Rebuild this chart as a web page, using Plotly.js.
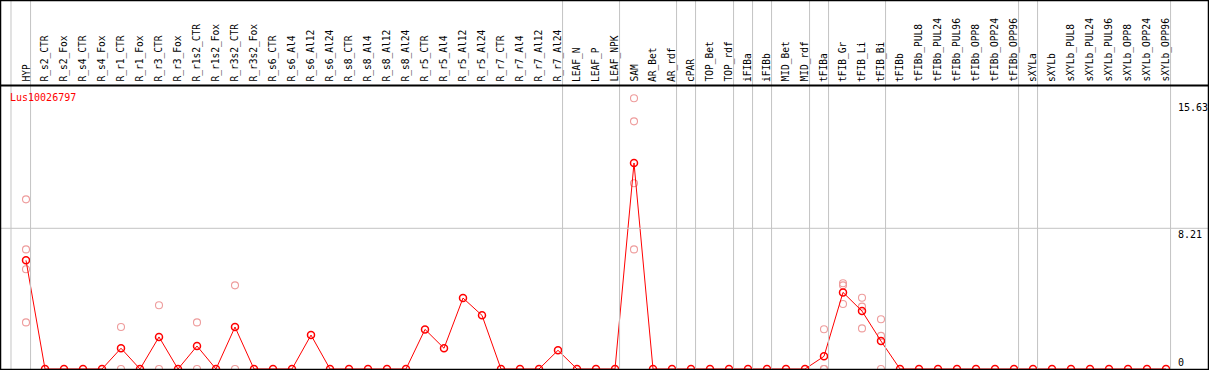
<!DOCTYPE html>
<html>
<head>
<meta charset="utf-8">
<script src="https://cdn.plot.ly/plotly-3.0.1.min.js"></script>
<style>html,body{margin:0;padding:0;background:#fff;}#chart{width:1209px;height:370px;}</style>
</head>
<body>
<div id="chart"></div>
<script>
var geneName = "Lus10026797";
var categories = ["HYP","R_s2_CTR","R_s2_Fox","R_s4_CTR","R_s4_Fox","R_r1_CTR","R_r1_Fox","R_r3_CTR","R_r3_Fox","R_r1s2_CTR",
  "R_r1s2_Fox","R_r3s2_CTR","R_r3s2_Fox","R_s6_CTR","R_s6_Al4","R_s6_Al12","R_s6_Al24","R_s8_CTR","R_s8_Al4","R_s8_Al12",
  "R_s8_Al24","R_r5_CTR","R_r5_Al4","R_r5_Al12","R_r5_Al24","R_r7_CTR","R_r7_Al4","R_r7_Al12","R_r7_Al24","LEAF_N",
  "LEAF_P","LEAF_NPK","SAM","AR_Bet","AR_rdf","cPAR","TOP_Bet","TOP_rdf","iFIBa","iFIBb",
  "MID_Bet","MID_rdf","tFIBa","tFIB_Gr","tFIB_Li","tFIB_Bi","tFIBb","tFIBb_PUL8","tFIBb_PUL24","tFIBb_PUL96",
  "tFIBb_OPP8","tFIBb_OPP24","tFIBb_OPP96","sXYLa","sXYLb","sXYLb_PUL8","sXYLb_PUL24","sXYLb_PUL96","sXYLb_OPP8","sXYLb_OPP24",
  "sXYLb_OPP96"];
var meanExpr = [6.34,0,0,0,0,1.21,0,1.87,0,1.34,
  0,2.45,0,0,0,1.98,0,0,0,0,
  0,2.31,1.21,4.14,3.13,0,0,0,1.09,0,
  0,0,12.02,0,0,0,0,0,0,0,
  0,0,0.74,4.47,3.38,1.63,0,0,0,0,
  0,0,0,0,0,0,0,0,0,0,
  0];
var rep1 = [9.90,null,null,null,null,2.45,null,3.72,null,2.72,
  null,4.88,null,null,null,null,null,null,null,null,
  null,null,null,null,null,null,null,null,null,null,
  null,null,15.80,null,null,null,null,null,null,null,
  null,null,2.32,5.00,4.16,2.90,null,null,null,null,
  null,null,null,null,null,null,null,null,null,null,
  null];
var rep2 = [6.98,null,null,null,null,0,null,0,null,0,
  null,0,null,null,null,null,null,null,null,null,
  null,null,null,null,null,null,null,null,null,null,
  null,null,14.45,null,null,null,null,null,null,null,
  null,null,0,4.88,3.64,1.93,null,null,null,null,
  null,null,null,null,null,null,null,null,null,null,
  null];
var rep3 = [5.82,null,null,null,null,null,null,null,null,null,
  null,null,null,null,null,null,null,null,null,null,
  null,null,null,null,null,null,null,null,null,null,
  null,null,10.84,null,null,null,null,null,null,null,
  null,null,0,3.79,2.37,0,null,null,null,null,
  null,null,null,null,null,null,null,null,null,null,
  null];
var rep4 = [2.72,null,null,null,null,null,null,null,null,null,
  null,null,null,null,null,null,null,null,null,null,
  null,null,null,null,null,null,null,null,null,null,
  null,null,6.98,null,null,null,null,null,null,null,
  null,null,null,null,null,null,null,null,null,null,
  null,null,null,null,null,null,null,null,null,null,
  null];
var groupEnds = ["HYP","R_r7_Al24","LEAF_NPK","AR_rdf","cPAR","TOP_rdf","iFIBa","iFIBb","MID_rdf","tFIBa","tFIB_Bi","tFIBb_OPP96","sXYLa","sXYLb_OPP96"];
var yTickVals = [15.63, 8.21, 0];
var yTickText = ["15.63", "8.21", "0"];
var gridVals = [8.21];

var W = 1209, H = 370;
var FONT = "DejaVu Sans Mono, monospace";
var idx = categories.map(function(_, i){ return i; });
function fx(px){ return px / W; }
function fy(py){ return 1 - py / H; }

var repColor = "#ee9c9c";
var traces = [];
[rep1, rep2, rep3, rep4].forEach(function(r){
  traces.push({x: idx, y: r, type: "scatter", mode: "markers", hoverinfo: "skip",
    marker: {symbol: "circle-open", size: 7, color: repColor, line: {width: 1.1, color: repColor}}, cliponaxis: true});
});
traces.push({x: idx, y: meanExpr, type: "scatter", mode: "lines+markers",
  line: {color: "#ff0000", width: 1},
  marker: {symbol: "circle-open", size: 7, color: "#ff0000", line: {width: 1.5, color: "#ff0000"}}, cliponaxis: true});

var shapes = [];
shapes.push({type: "line", xref: "x", yref: "paper", x0: -0.79, x1: -0.79, y0: 0, y1: 1, line: {color: "#c4c4c4", width: 1}});
groupEnds.forEach(function(name){
  var i = categories.indexOf(name) + 0.24;
  shapes.push({type: "line", xref: "x", yref: "paper", x0: i, x1: i, y0: 0, y1: 1, line: {color: "#c4c4c4", width: 1}});
});
gridVals.forEach(function(v){
  shapes.push({type: "line", xref: "paper", yref: "y", x0: 0, x1: 1, y0: v, y1: v, line: {color: "#c4c4c4", width: 1}});
});
shapes.push({type: "line", xref: "paper", yref: "paper", x0: 0, x1: 1, y0: fy(85.5), y1: fy(85.5), line: {color: "#000", width: 2}});
shapes.push({type: "rect", xref: "paper", yref: "paper", x0: fx(0.5), x1: fx(1208.5), y0: fy(369.5), y1: fy(0.5), line: {color: "#000", width: 1.5}});

var annotations = [];
categories.forEach(function(c, i){
  annotations.push({x: i - 0.02, xref: "x", y: fy(83), yref: "paper", text: c, showarrow: false, textangle: -90,
    xanchor: "center", yanchor: "bottom", borderpad: 0, font: {family: FONT, size: 9.6, color: "#000"}});
});
yTickVals.forEach(function(v, k){
  annotations.push({x: fx(1177), xref: "paper", y: v, yref: "y", text: yTickText[k], showarrow: false,
    xanchor: "left", yanchor: v === 0 ? "bottom" : "top", borderpad: 0, font: {family: FONT, size: 10, color: "#000"}});
});
annotations.push({x: fx(9), xref: "paper", y: fy(91), yref: "paper", text: geneName, showarrow: false,
  xanchor: "left", yanchor: "top", borderpad: 0, font: {family: FONT, size: 10, color: "#ff0000"}});

var layout = {
  width: W, height: H, margin: {l: 0, r: 0, t: 0, b: 0},
  paper_bgcolor: "#fff", plot_bgcolor: "#fff", showlegend: false,
  xaxis: {range: [-26/19, 1183/19], visible: false, fixedrange: true},
  yaxis: {range: [-1/17.138, 369/17.138], visible: false, fixedrange: true},
  shapes: shapes, annotations: annotations
};
Plotly.newPlot("chart", traces, layout, {staticPlot: true, displayModeBar: false});
</script>
</body>
</html>
